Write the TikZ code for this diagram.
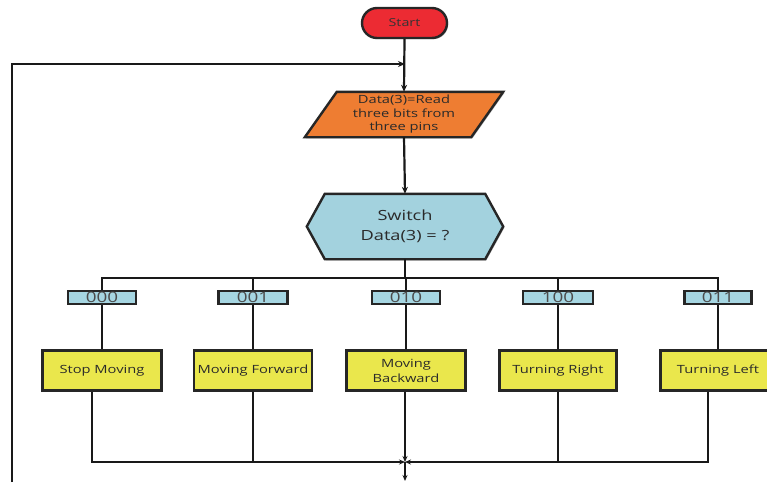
\documentclass[tikz,border=0pt]{standalone}
\usepackage{fontspec}
\setmainfont[FakeStretch=1.3]{Open Sans}
\usetikzlibrary{arrows.meta,calc,shadows,backgrounds}
\definecolor{startred}{HTML}{EC2B33}
\definecolor{dataorange}{HTML}{EE7D32}
\definecolor{hexblue}{HTML}{A3D2DE}
\definecolor{lblblue}{HTML}{A6D6E2}
\definecolor{actyellow}{HTML}{EAE74C}
\definecolor{txtgray}{HTML}{2A2A2A}
\begin{document}
\begin{tikzpicture}[x=1pt,y=-1pt,
  shad/.style={drop shadow={shadow xshift=1.2pt,shadow yshift=-1.2pt,fill=black,opacity=0.3}},
  act/.style={draw=black!85,line width=2.4pt,fill=actyellow,minimum height=40pt,inner sep=0pt,align=center,font=\fontsize{11.3}{15}\selectfont,text=txtgray,shad},
  lbl/.style={draw=black!85,line width=2.2pt,fill=lblblue,minimum height=13pt,inner sep=0pt,font=\fontsize{14.5}{14.5}\selectfont,text=black!70,shad},
  conn/.style={line width=2.2pt,draw=black!90},
  thinconn/.style={line width=1.6pt,draw=black!90},
  tip/.style={-{Stealth[length=7pt,width=6pt]}},
  smalltip/.style={-{Stealth[length=6pt,width=5pt]}}]
\useasboundingbox (0,0) rectangle (767,482);

% start
\node[draw=black!85,line width=2.4pt,fill=startred,rounded corners=15pt,minimum width=85pt,minimum height=30pt,inner sep=0pt,font=\fontsize{11}{13}\selectfont,text=black!80,shad] (start) at (404.5,23) {Start};

% data input (parallelogram drawn on background)
\node[minimum width=166pt,minimum height=45pt,inner sep=0pt,align=center,font=\fontsize{11.3}{13.5}\selectfont,text=txtgray] (data) at (404,114.5) {Data(3)=Read\\three bits from\\three pins};

% switch hexagon
\node[minimum width=160pt,minimum height=65pt,inner sep=0pt,align=center,font=\fontsize{14}{20}\selectfont,text=txtgray] (sw) at (405,226.5) {Switch\\Data(3) = ?};

\begin{scope}[on background layer]
\draw[fill=dataorange,line width=2.4pt,draw=black!85,shad]
  ($(data.south west)+(-16,0)$) -- ($(data.north west)+(16,0)$) -- ($(data.north east)+(16,0)$) -- ($(data.south east)+(-16,0)$) -- cycle;
\draw[fill=hexblue,line width=2.4pt,draw=black!85,shad]
  (sw.north west) -- (sw.north east) -- ($(sw.east)+(18,0)$) -- (sw.south east) -- (sw.south west) -- ($(sw.west)+(-18,0)$) -- cycle;
\end{scope}

% labels
\node[lbl,minimum width=68pt] (l000) at (102,297.5) {000};
\node[lbl,minimum width=69pt] (l001) at (253,297.5) {001};
\node[lbl,minimum width=68pt] (l010) at (406,297.5) {010};
\node[lbl,minimum width=70pt] (l100) at (558,297.5) {100};
\node[lbl,minimum width=67pt] (l011) at (718,297.5) {011};

% actions
\node[act,minimum width=119pt] (stop) at (102,370.5) {Stop Moving};
\node[act,minimum width=118pt] (fwd) at (253,370.5) {Moving Forward};
\node[act,minimum width=119pt] (back) at (406,370.5) {Moving\\Backward};
\node[act,minimum width=117pt] (right) at (558,370.5) {Turning Right};
\node[act,minimum width=115pt] (left) at (718,370.5) {Turning Left};

% coordinates
\coordinate (join) at (405,64);
\coordinate (loopstart) at (12,482);
\coordinate (bus) at (405,278);
\coordinate (merge) at (405,462);
\coordinate (exit) at (405,481);

% connectors
\draw[conn,tip] (start.south) -- (data.north);
\draw[conn,tip] (loopstart) |- (join);
\draw[conn,tip] (data.south) -- (sw.north);
\draw[conn] (sw.south) -- (bus);
\draw[conn] (l000.north) |- (bus) -| (l011.north);
\draw[conn] (l001.north) -- (l001.north |- bus);
\draw[conn] (l010.north) -- (l010.north |- bus);
\draw[conn] (l100.north) -- (l100.north |- bus);
\draw[conn] (l000.south) -- (l000.south |- stop.north);
\draw[conn] (l001.south) -- (l001.south |- fwd.north);
\draw[conn] (l010.south) -- (l010.south |- back.north);
\draw[conn] (l100.south) -- (l100.south |- right.north);
\draw[conn] (l011.south) -- (l011.south |- left.north);

\draw[thinconn,smalltip] ([xshift=-10pt]stop.south) |- (merge);
\draw[thinconn,smalltip] ([xshift=-10pt]left.south) |- (merge);
\draw[thinconn] (fwd.south) -- (fwd.south |- merge);
\draw[thinconn] (right.south) -- (right.south |- merge);
\draw[thinconn,smalltip] ([xshift=-1pt]back.south) -- (merge);
\draw[thinconn,smalltip] (merge) -- (exit);
\end{tikzpicture}
\end{document}
